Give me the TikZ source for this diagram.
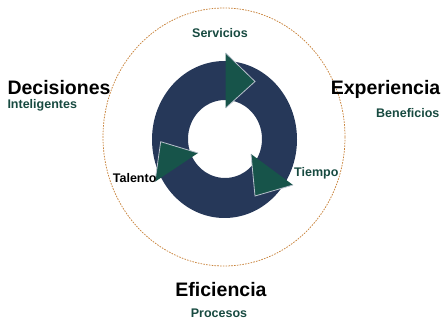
\documentclass[tikz,border=0pt]{standalone}
\usepackage{fontspec}
\setmainfont{Liberation Sans}
\definecolor{navy}{HTML}{263859}
\definecolor{tri}{HTML}{17544A}
\definecolor{tgreen}{HTML}{174A40}
\definecolor{ring}{HTML}{C8823A}
\definecolor{edgegray}{HTML}{B8C0CC}
\begin{document}
\begin{tikzpicture}[x=1pt,y=-1pt,
  big/.style={font=\fontsize{19.5}{20}\selectfont\bfseries, text=black, inner sep=0pt},
  small/.style={font=\fontsize{12.5}{13}\selectfont\bfseries, text=tgreen, inner sep=0pt},
  arrowtri/.style={fill=tri},
  glint/.style={draw=edgegray, line width=0.8pt, line join=miter}]
\useasboundingbox (0,0) rectangle (441,320);
% outer dotted ring
\draw[ring, line width=0.75pt, dash pattern=on 1.6pt off 1.2pt] (224,137) ellipse [x radius=121, y radius=129];
% donut
\fill[navy, even odd rule] (224.5,139.5) ellipse [x radius=72.5, y radius=78.5]
  (225,139) ellipse [x radius=37, y radius=39];
% top arrow
\coordinate (sA) at (225.7,53);
\coordinate (sB) at (255,81.5);
\coordinate (sC) at (225.7,108);
\fill[arrowtri] (sA) -- (sB) -- (sC) -- cycle;
\draw[glint] (sA) -- (sB) -- (sC);
% left arrow
\coordinate (tA) at (160.7,141.7);
\coordinate (tB) at (198,153);
\coordinate (tC) at (155,181.7);
\fill[arrowtri] (tA) -- (tB) -- (tC) -- cycle;
\draw[glint] (tC) -- (tA) -- (tB);
% right arrow
\coordinate (mA) at (251,154);
\coordinate (mB) at (293,185);
\coordinate (mC) at (255,196);
\fill[arrowtri] (mA) -- (mB) -- (mC) -- cycle;
\draw[glint] (mA) -- (mC) -- (mB);
% labels
\node[small, anchor=base] (serv) at (220,38) {Servicios};
\node[big, anchor=base west] (dec) at (7.3,94.3) {Decisiones};
\node[small, anchor=base west] (intel) at (7.3,108.3) {Inteligentes};
\node[big, anchor=base east] (exp) at (440.5,94.5) {Experiencia};
\node[small, anchor=base west] (ben) at (376,117.5) {Beneficios};
\node[small, anchor=base west] (tiem) at (294,177) {Tiempo};
\node[small, text=black, anchor=base west] (tal) at (112.7,183) {Talento};
\node[big, anchor=base] (efi) at (221,296.7) {Eficiencia};
\node[small, anchor=base] (proc) at (219,317.3) {Procesos};
\end{tikzpicture}
\end{document}
